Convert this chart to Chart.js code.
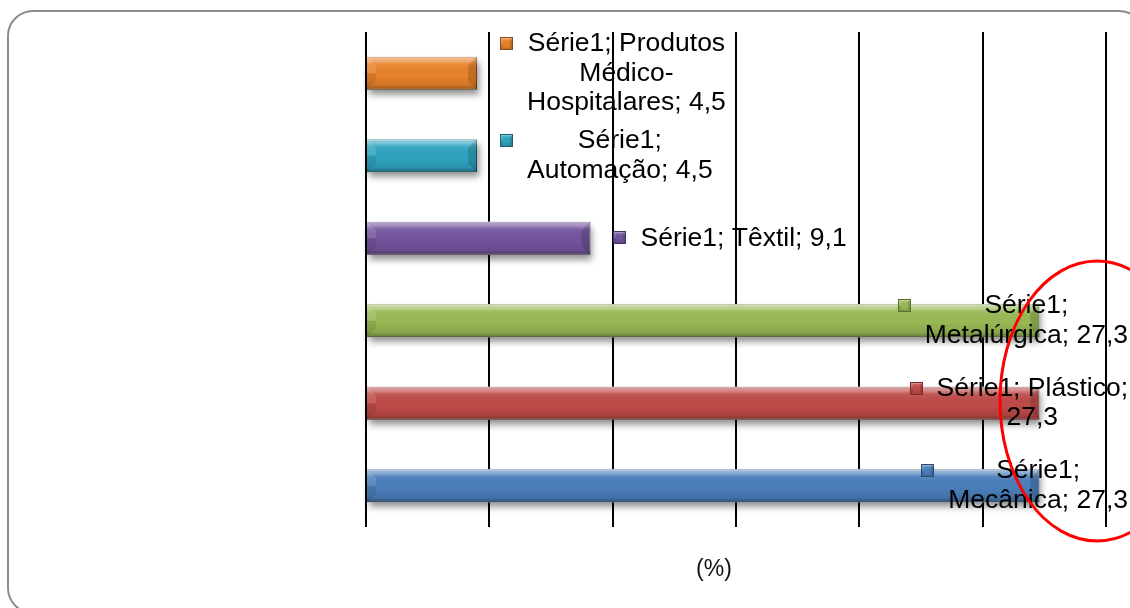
<!DOCTYPE html>
<html>
<head>
<meta charset="utf-8">
<script src="https://cdn.jsdelivr.net/npm/chart.js@4/dist/chart.umd.min.js"></script>
<style>
  body { margin: 0; background: #fff; }
  canvas { display: block; }
</style>
</head>
<body>
<canvas id="myChart" width="1130" height="608"></canvas>
<script>
const seriesName = "Série1";
const categories = [
  "Produtos Médico-Hospitalares",
  "Automação",
  "Têxtil",
  "Metalúrgica",
  "Plástico",
  "Mecânica",
];
const values = [4.5, 4.5, 9.1, 27.3, 27.3, 27.3];
const barColors = ["#E8822A", "#2FA3C0", "#74549E", "#98B954", "#BE4B48", "#4A7EBB"];
const axisTitle = "(%)";
const axisMax = 30;
const axisStep = 5;

const labelFont = '26.5px "Liberation Sans", Arial, sans-serif';

function fmt(v) {
  return v.toFixed(1).replace(".", ",");
}

// word wrap, also allowing a break right after a hyphen
function wrap(ctx, text, maxW) {
  const parts = text.match(/[^\s-]+-?\s*/g);
  const lines = [];
  let cur = "";
  for (const p of parts) {
    const test = cur + p;
    if (cur && ctx.measureText(test.trimEnd()).width > maxW) {
      lines.push(cur.trimEnd());
      cur = p;
    } else {
      cur = test;
    }
  }
  lines.push(cur.trimEnd());
  return lines;
}

function shade(hex, amt) {
  let n = parseInt(hex.slice(1), 16);
  let r = (n >> 16) & 255, g = (n >> 8) & 255, b = n & 255;
  const f = (c) => Math.max(0, Math.min(255, Math.round(amt < 0 ? c * (1 + amt) : c + (255 - c) * amt)));
  return "rgb(" + f(r) + "," + f(g) + "," + f(b) + ")";
}

// glassy bevel drawn on top of a flat rectangle
function bevel(ctx, x, y, w, h, d) {
  const g = ctx.createLinearGradient(0, y, 0, y + h);
  g.addColorStop(0, "rgba(255,255,255,0.5)");
  g.addColorStop(0.12, "rgba(255,255,255,0.35)");
  g.addColorStop(0.22, "rgba(255,255,255,0.08)");
  g.addColorStop(0.55, "rgba(0,0,0,0)");
  g.addColorStop(0.85, "rgba(0,0,0,0.1)");
  g.addColorStop(1, "rgba(0,0,0,0.35)");
  ctx.fillStyle = g;
  ctx.fillRect(x, y, w, h);
  if (w < 2 * d) return;
  // left face
  ctx.fillStyle = "rgba(255,255,255,0.12)";
  ctx.beginPath();
  ctx.moveTo(x, y);
  ctx.lineTo(x + d, y + d);
  ctx.lineTo(x + d, y + h / 2);
  ctx.lineTo(x, y + h / 2);
  ctx.closePath();
  ctx.fill();
  ctx.fillStyle = "rgba(0,0,0,0.08)";
  ctx.beginPath();
  ctx.moveTo(x, y + h / 2);
  ctx.lineTo(x + d, y + h / 2);
  ctx.lineTo(x + d, y + h - d);
  ctx.lineTo(x, y + h);
  ctx.closePath();
  ctx.fill();
  // right face
  ctx.fillStyle = "rgba(0,0,0,0.15)";
  ctx.beginPath();
  ctx.moveTo(x + w, y);
  ctx.lineTo(x + w - d, y + d);
  ctx.lineTo(x + w - d, y + h - d);
  ctx.lineTo(x + w, y + h);
  ctx.closePath();
  ctx.fill();
}

function drawMarker(ctx, x, y, s, color) {
  ctx.fillStyle = color;
  ctx.fillRect(x, y, s, s);
  bevel(ctx, x, y, s, s, 3);
  ctx.strokeStyle = shade(color, -0.4);
  ctx.lineWidth = 1;
  ctx.strokeRect(x + 0.5, y + 0.5, s - 1, s - 1);
}

function barRect(bar) {
  return {
    left: Math.min(bar.base, bar.x),
    top: bar.y - bar.height / 2,
    w: Math.abs(bar.x - bar.base),
    h: bar.height,
  };
}

const barStyle = {
  id: "barStyle",
  beforeDatasetsDraw(chart) {
    // soft drop shadow under each bar
    const ctx = chart.ctx;
    const meta = chart.getDatasetMeta(0);
    ctx.save();
    ctx.shadowColor = "rgba(0,0,0,0.45)";
    ctx.shadowBlur = 7;
    ctx.shadowOffsetX = 2;
    ctx.shadowOffsetY = 5;
    ctx.fillStyle = "#fff";
    meta.data.forEach((bar) => {
      const r = barRect(bar);
      ctx.fillRect(r.left, r.top, r.w, r.h);
    });
    ctx.restore();
  },
  afterDatasetsDraw(chart) {
    const ctx = chart.ctx;
    const meta = chart.getDatasetMeta(0);
    ctx.save();
    meta.data.forEach((bar) => {
      const r = barRect(bar);
      bevel(ctx, r.left, r.top, r.w, r.h, 9);
    });

    // data labels: marker + wrapped "series; category; value"
    ctx.font = labelFont;
    ctx.textAlign = "center";
    ctx.textBaseline = "middle";
    const lh = 29.5;
    meta.data.forEach((bar, i) => {
      const text = seriesName + "; " + categories[i] + "; " + fmt(values[i]);
      const lines = wrap(ctx, text, 207);
      const textW = Math.max(...lines.map((l) => ctx.measureText(l).width));
      const blockW = 27 + textW;
      let x0 = bar.x + 23;
      if (x0 + blockW > chart.width - 2) x0 = chart.width - 2 - blockW;
      const y0 = bar.y - ((lines.length - 1) * lh) / 2;
      drawMarker(ctx, Math.round(x0), Math.round(y0 - 7), 13, barColors[i]);
      ctx.fillStyle = "#000";
      const cx = x0 + 27 + textW / 2;
      lines.forEach((l, k) => ctx.fillText(l, cx, y0 + k * lh));
    });
    ctx.restore();
  },
};

const frame = {
  id: "frame",
  beforeDraw(chart) {
    const ctx = chart.ctx;
    ctx.save();
    ctx.fillStyle = "#fff";
    ctx.fillRect(0, 0, chart.width, chart.height);
    ctx.strokeStyle = "#8c8c8c";
    ctx.lineWidth = 2;
    ctx.beginPath();
    ctx.roundRect(8, 11, 1136, 602, 25);
    ctx.stroke();
    ctx.restore();
  },
  afterDraw(chart) {
    const ctx = chart.ctx;
    ctx.save();
    ctx.font = '23px "Liberation Sans", Arial, sans-serif';
    ctx.fillStyle = "#111";
    ctx.textAlign = "center";
    ctx.textBaseline = "middle";
    ctx.fillText(axisTitle, 714, 570);
    // red highlight ellipse
    ctx.strokeStyle = "#ff0000";
    ctx.lineWidth = 3;
    ctx.beginPath();
    ctx.ellipse(1097, 401, 97, 140, 0, 0, Math.PI * 2);
    ctx.stroke();
    ctx.restore();
  },
};

const ctx = document.getElementById("myChart");
const myChart = new Chart(ctx, {
  type: "bar",
  data: {
    labels: categories,
    datasets: [
      {
        label: seriesName,
        data: values,
        backgroundColor: barColors,
        borderColor: barColors.map((c) => shade(c, -0.4)),
        borderWidth: 1,
        barPercentage: 0.4,
        categoryPercentage: 1.0,
      },
    ],
  },
  options: {
    indexAxis: "y",
    responsive: false,
    animation: false,
    layout: {
      padding: { left: 366, right: 24, top: 32, bottom: 81 },
    },
    plugins: {
      legend: { display: false },
      tooltip: { enabled: false },
    },
    scales: {
      x: {
        min: 0,
        max: axisMax,
        ticks: { display: false, stepSize: axisStep },
        grid: { color: "#000", lineWidth: 2, drawTicks: false },
        border: { display: false },
      },
      y: {
        display: false,
      },
    },
  },
  plugins: [frame, barStyle],
});
</script>
</body>
</html>
